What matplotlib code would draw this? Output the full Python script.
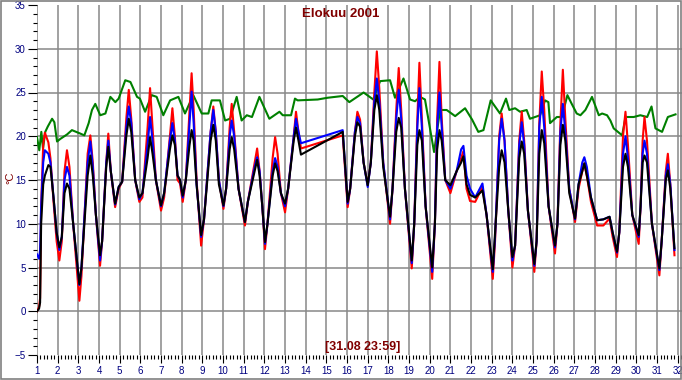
import numpy as np
import matplotlib
matplotlib.use("Agg")
import matplotlib.pyplot as plt
from matplotlib.ticker import MultipleLocator, FixedLocator

plt.rcParams['font.family'] = ['Liberation Sans', 'DejaVu Sans']

# time in axis units (day number, 1 = 1.8. 00:00), one row per day
temp_t = [
    1.00, 1.10, 1.15, 1.20, 1.30, 1.38, 1.55, 1.65, 1.80, 1.95,
    2.08, 2.20, 2.33, 2.45, 2.57, 2.75,
    3.05, 3.15, 3.45, 3.58, 3.70, 3.85,
    4.05, 4.15, 4.35, 4.45, 4.57, 4.78, 4.95,
    5.12, 5.32, 5.44, 5.56, 5.75, 5.95,
    6.10, 6.35, 6.47, 6.59, 6.75,
    7.00, 7.15, 7.43, 7.55, 7.67, 7.80, 7.92, 8.05,
    8.20, 8.38, 8.48, 8.58, 8.72,
    8.94, 9.08, 9.40, 9.53, 9.65, 9.80,
    10.02, 10.15, 10.32, 10.42, 10.54, 10.75,
    11.06, 11.20, 11.53, 11.65, 11.77, 11.90,
    12.03, 12.15, 12.40, 12.52, 12.64, 12.80,
    13.00, 13.15, 13.42, 13.53, 13.65, 13.77,
    15.79,
    16.03, 16.15, 16.38, 16.50, 16.63, 16.80,
    17.00, 17.15, 17.32, 17.44, 17.56, 17.75,
    18.08, 18.20, 18.38, 18.50, 18.62, 18.80,
    19.13, 19.25, 19.40, 19.50, 19.62, 19.80,
    20.12, 20.25, 20.36, 20.47, 20.58, 20.75,
    21.00, 21.30, 21.52, 21.63, 21.78, 21.95,
    22.20, 22.55, 22.75,
    23.05, 23.16, 23.36, 23.48, 23.62, 23.80,
    24.00, 24.13, 24.33, 24.45, 24.57, 24.75,
    25.06, 25.17, 25.30, 25.42, 25.54, 25.75,
    26.06, 26.18, 26.32, 26.44, 26.56, 26.75,
    27.03, 27.20, 27.38, 27.48, 27.60, 27.80,
    28.10, 28.40, 28.70, 28.85,
    29.06, 29.17, 29.35, 29.47, 29.59, 29.80,
    30.11, 30.20, 30.30, 30.39, 30.51, 30.75,
    31.11, 31.22, 31.42, 31.52, 31.64, 31.84,
]

red_v = [
    0, 0.5, 1.5, 12, 19, 20.4, 19.3, 17.5, 12.5, 8,
    5.8, 8, 16, 18.4, 16.5, 10,
    1.2, 4, 18, 20.1, 17, 11,
    5.2, 8, 17, 20.3, 16, 11.9, 14,
    14.8, 22, 25.3, 22, 15, 12.5,
    13, 21, 25.5, 21, 15,
    11.5, 13, 20, 23.2, 20, 15, 14.6, 12.5,
    15, 23, 27.2, 23, 15,
    7.5, 10.5, 20.5, 23.4, 20.5, 15,
    11.7, 14, 21, 23.7, 20.5, 14,
    9.8, 12.5, 17, 18.6, 16, 12,
    7.1, 10, 17.5, 19.9, 18, 13.5,
    11.3, 14, 20, 22.8, 20.5, 18.6,
    20.1,
    11.9, 14, 20.5, 22.8, 21.9, 17,
    14.4, 17, 25, 29.7, 25.5, 17,
    10.0, 14, 23, 27.8, 23, 14,
    4.9, 10, 22, 28.4, 22, 12,
    3.7, 10, 22, 28.5, 22, 15,
    13.5, 16, 17.5, 18.3, 14, 12.6,
    12.5, 14.2, 11,
    3.7, 8, 20, 22.6, 19.5, 11.5,
    5.0, 7.5, 19.5, 22.8, 19.5, 11.5,
    4.5, 8, 21.5, 27.4, 23, 12,
    6.6, 10, 21.5, 27.6, 22, 14,
    10.2, 14, 16, 16.9, 15.5, 12.5,
    9.8, 9.8, 10.6, 8.5,
    6.2, 9, 20, 22.8, 19, 11,
    7.7, 12, 19.5, 22.2, 19.5, 10,
    4.1, 8, 16, 18, 14.5, 6.4,
]

blue_v = [
    6.5, 6.0, 7, 12, 17, 18.4, 18.0, 17, 13, 9,
    7.0, 8.5, 15, 16.5, 15.5, 10,
    3, 5, 17, 19.4, 16.5, 11,
    5.8, 8, 17, 19.5, 16, 12.2, 14.2,
    14.8, 21, 23.4, 21.5, 15, 12.8,
    13.5, 19, 22.2, 19.5, 15,
    12, 13.5, 19.5, 21.5, 19.5, 15.5, 15, 13,
    15, 21.5, 25.1, 21.5, 14.5,
    8.5, 10.5, 20.5, 23, 20.5, 15,
    12, 14, 20, 21.8, 20, 14,
    10.2, 12.5, 16.5, 17.6, 16, 12,
    7.7, 10, 16, 17.5, 16.5, 13.5,
    12, 14, 20, 22, 20.5, 19.2,
    20.7,
    12.3, 14, 20.5, 22.2, 21.5, 17,
    14.2, 17, 24, 26.6, 24, 17,
    10.5, 14, 22, 25.3, 22, 14,
    5.5, 10, 21, 25.5, 21, 12,
    4.5, 10, 21, 25, 21, 15,
    14, 16, 18.5, 18.9, 15.5, 14.0,
    13, 14.6, 11,
    4.5, 8.5, 19.5, 22, 19.5, 11.5,
    5.8, 7.5, 19, 21.6, 19, 11.5,
    5.2, 8, 21, 24.5, 21, 12,
    7.3, 10, 20.5, 23.7, 20.5, 14,
    10.5, 14.5, 17, 17.6, 16.5, 13,
    10.4, 10.5, 10.8, 9,
    6.7, 9, 18, 20, 17.5, 11,
    8.5, 12, 18, 19.5, 18, 10,
    4.7, 8, 15.5, 16.8, 14.5, 7.0,
]

black_v = [
    0, 0.3, 1.0, 10, 14.5, 15.5, 16.7, 16.5, 13, 9,
    7.3, 8.5, 13.5, 14.6, 14, 10,
    3.1, 5, 15.5, 17.8, 15.5, 11,
    6.4, 8, 16.5, 18.8, 16, 12.3, 14.2,
    14.8, 20, 22, 20.5, 15, 13,
    13.5, 17.5, 19.9, 18, 15,
    12.1, 13.5, 18.5, 20.1, 19, 15.5, 15, 13.2,
    15, 19, 20.7, 19.5, 14.5,
    8.7, 10.5, 19.5, 21.3, 19.5, 14.5,
    12.1, 14, 18.5, 19.9, 18.5, 14,
    10.2, 12.5, 16, 17.3, 15.5, 12,
    7.9, 10, 15.5, 16.9, 16, 13.5,
    12.3, 14, 19.5, 21, 19.5, 17.9,
    20.5,
    12.5, 14, 20, 21.6, 21.1, 17,
    14.4, 17, 23, 24.7, 23, 16.5,
    10.8, 14, 20.5, 22.1, 21, 14,
    5.8, 10, 19, 20.7, 19.5, 12,
    5.0, 10, 18.5, 20.7, 19.5, 15,
    14.4, 16, 17, 17.7, 14.5, 13.3,
    13, 13.8, 11,
    4.8, 9, 16.5, 18.4, 17, 11.5,
    6.2, 7.5, 17.5, 19.4, 18, 11.5,
    5.4, 8, 18, 20.7, 19.2, 12,
    7.5, 10, 19, 21.3, 19.5, 13.5,
    10.6, 14.5, 16, 16.9, 15.5, 13,
    10.4, 10.5, 10.8, 9,
    6.8, 9, 16.5, 18, 16.5, 11,
    8.7, 12, 17, 17.8, 17, 10,
    4.9, 8, 15, 16.1, 14, 7.2,
]

green_t = [
    1.00, 1.11, 1.21, 1.29, 1.40, 1.52, 1.73, 1.84, 1.97, 2.13, 2.45, 2.69,
    3.10, 3.29, 3.50, 3.66, 3.82, 4.06, 4.31, 4.55, 4.79, 4.95, 5.27, 5.52,
    5.84, 5.98, 6.23, 6.55, 6.79, 7.11, 7.44, 7.84, 8.16, 8.56, 8.97, 9.29,
    9.45, 9.85, 10.10, 10.34, 10.66, 10.90, 11.15, 11.40, 11.76, 12.24, 12.73,
    12.89, 13.29, 13.48, 13.61, 14.58, 15.06, 15.79, 16.11, 16.80, 17.27,
    17.60, 18.08, 18.32, 18.73, 19.05, 19.29, 19.53, 19.77, 20.21, 20.50,
    20.82, 21.23, 21.71, 22.05, 22.35, 22.60, 22.95, 23.40, 23.69, 23.85,
    24.13, 24.37, 24.69, 24.85, 25.34, 25.58, 25.74, 25.82, 26.15, 26.39,
    26.66, 26.87, 27.11, 27.29, 27.53, 27.85, 28.18, 28.34, 28.58, 28.74,
    28.90, 29.31, 29.47, 29.87, 30.19, 30.52, 30.73, 30.92, 31.24, 31.52,
    31.89,
]
green_v = [
    19.9, 18.4, 20.5, 18.6, 20.5, 21.1, 22.0, 21.6, 19.4, 19.7, 20.2, 20.7,
    20.3, 20.1, 21.5, 23.0, 23.7, 22.4, 22.6, 24.5, 23.9, 24.3, 26.4, 26.2,
    24.5, 24.3, 22.8, 24.7, 24.5, 22.4, 24.1, 24.5, 22.6, 24.7, 22.6, 22.6,
    24.1, 24.1, 21.8, 22.0, 24.5, 21.8, 22.4, 22.2, 24.5, 22.0, 22.8,
    22.4, 22.4, 24.3, 24.1, 24.2, 24.4, 24.6, 23.9, 25.0, 24.2,
    26.3, 26.4, 24.4, 26.6, 24.2, 24.0, 24.5, 24.2, 18.2, 23.0,
    23.0, 22.3, 23.2, 21.9, 20.5, 20.7, 24.1, 22.6, 24.3, 23.0,
    23.2, 22.8, 23.0, 22.0, 22.4, 24.1, 23.9, 21.5, 22.2, 22.2,
    24.7, 23.7, 22.6, 22.4, 23.0, 24.5, 22.4, 22.6, 22.4, 21.8,
    20.9, 20.1, 22.2, 22.2, 22.4, 22.2, 23.4, 20.9, 20.5, 22.2,
    22.5,
]

day_ticks = list(range(1, 33))
y_ticks = list(range(-5, 36, 5))

W, H = 682, 380
fig = plt.figure(figsize=(W / 100, H / 100), dpi=100)
ax = fig.add_axes([37 / W, 25 / H, 645 / W, 350 / H])

lw = 1.5
ax.plot(green_t, green_v, color='#008000', lw=lw, zorder=3)
ax.plot(temp_t, red_v, color='#ff0000', lw=lw, zorder=4)
ax.plot(temp_t, blue_v, color='#0000ff', lw=lw, zorder=5)
ax.plot(temp_t, black_v, color='#000000', lw=lw, zorder=6)

ax.set_xlim(1, 1 + 645 / 20.67)
ax.set_ylim(-5, 35)
for s in ax.spines.values():
    s.set_visible(False)

ax.xaxis.set_major_locator(FixedLocator(day_ticks))
ax.xaxis.set_minor_locator(MultipleLocator(1 / 6))
ax.yaxis.set_major_locator(FixedLocator(y_ticks))
ax.yaxis.set_minor_locator(MultipleLocator(1))
ax.set_xticklabels([str(d) for d in day_ticks])

ax.tick_params(axis='x', which='major', direction='out', length=5.8, width=0.8,
               pad=2, labelsize=7, labelcolor='#000080')
ax.tick_params(axis='x', which='minor', direction='out', length=2.6, width=0.8)
ax.tick_params(axis='y', which='major', direction='out', length=6.5, width=0.8,
               pad=1.5, labelsize=7, labelcolor='#000080')
ax.tick_params(axis='y', which='minor', direction='out', length=2.8, width=0.8)

ax.grid(True, which='major', color='#888888', lw=1.1, zorder=1)
ygl = ax.get_ygridlines()
ygl[0].set_visible(False)
ygl[-1].set_visible(False)

fig.text(341 / W, 1 - 14 / H, 'Elokuu 2001', color='#800000', fontweight='bold',
         fontsize=9.5, ha='center', va='center')
fig.text(363 / W, 1 - 347 / H, '[31.08 23:59]', color='#800000', fontweight='bold',
         fontsize=9, ha='center', va='center')
fig.text(10 / W, 1 - 178 / H, '°C', color='#800000', fontsize=8, rotation=90,
         ha='center', va='center')

fig.add_artist(plt.Rectangle((0.5 / W, 1.5 / H), 680.5 / W, 378 / H, fill=False,
                             edgecolor='#808080', lw=1.2, transform=fig.transFigure))

fig.savefig('out.png', dpi=100)
